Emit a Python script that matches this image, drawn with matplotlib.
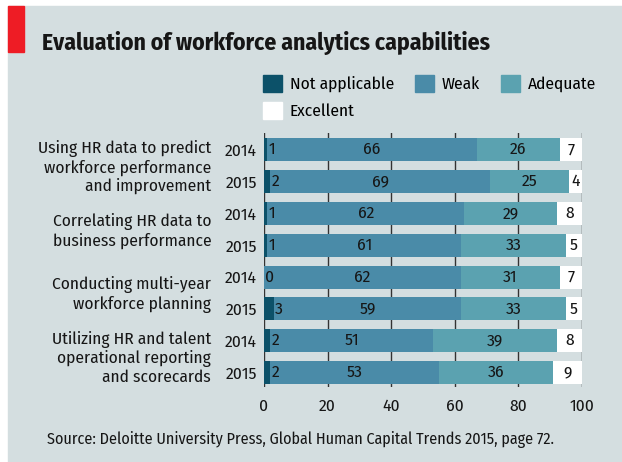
import matplotlib
matplotlib.use("Agg")
import matplotlib.pyplot as plt
from matplotlib.patches import Patch, Rectangle
import numpy as np

categories = ["Using HR data to predict\nworkforce performance\nand improvement",
              "Correlating HR data to\nbusiness performance",
              "Conducting multi-year\nworkforce planning",
              "Utilizing HR and talent\noperational reporting\nand scorecards"]
years = ["2014", "2015"]
not_applicable = [1, 2, 1, 1, 0, 3, 2, 2]
weak = [66, 69, 62, 61, 62, 59, 51, 53]
adequate = [26, 25, 29, 33, 31, 33, 39, 36]
excellent = [7, 4, 8, 5, 7, 5, 8, 9]
legend_labels = ["Not applicable", "Weak", "Adequate", "Excellent"]

c_na = "#0c5169"
c_weak = "#4a8ba8"
c_adeq = "#5ba2b0"
c_exc = "#ffffff"
bg = "#d4dee0"
txt = "#161616"

plt.rcParams['font.family'] = ['Fira Sans Condensed', 'Asap Condensed', 'Liberation Sans', 'DejaVu Sans']

fig = plt.figure(figsize=(6.22, 4.62), dpi=100)
# grey panel and red flag
fig.patches.append(Rectangle((8 / 622, 0), 1, 1 - 6 / 462, transform=fig.transFigure,
                             color=bg, zorder=-10))
fig.patches.append(Rectangle((8 / 622, 1 - 52 / 462), 16 / 622, 46 / 462,
                             transform=fig.transFigure, color="#ee1c25", zorder=-5))
fig.text(42 / 622, 1 - 43 / 462, "Evaluation of workforce analytics capabilities",
         fontsize=17, fontweight="bold", va="center", ha="left", color=txt)

ax = fig.add_axes([264 / 622, 0.1623, (582 - 264) / 622, 0.7121 - 0.1623])
ax.set_facecolor("none")

y = np.arange(len(weak))
na = np.array(not_applicable)
wk = np.array(weak)
ad = np.array(adequate)
ex = np.array(excellent)
h = 0.72
ax.barh(y, na, height=h, color=c_na, zorder=2)
ax.barh(y, wk, left=na, height=h, color=c_weak, zorder=2)
ax.barh(y, ad, left=na + wk, height=h, color=c_adeq, zorder=2)
ax.barh(y, ex, left=na + wk + ad, height=h, color=c_exc, zorder=2)

fs = 12.5
for i in y:
    ax.text(na[i] + 0.4, i, str(na[i]), ha="left", va="center", fontsize=fs, color=txt, zorder=3)
    ax.text(na[i] + wk[i] / 2, i, str(wk[i]), ha="center", va="center", fontsize=fs, color=txt, zorder=3)
    ax.text(na[i] + wk[i] + ad[i] / 2, i, str(ad[i]), ha="center", va="center", fontsize=fs, color=txt, zorder=3)
    ax.text(na[i] + wk[i] + ad[i] + ex[i] / 2, i, str(ex[i]), ha="center", va="center", fontsize=fs, color=txt, zorder=3)

ax.set_xlim(0, 100)
ax.set_ylim(7.45, -0.52)
ax.set_xticks([0, 20, 40, 60, 80, 100])
ax.set_yticks(y)
ax.set_yticklabels(years * 4)
ax.tick_params(axis="both", length=0, labelsize=fs, colors=txt)
ax.tick_params(axis="x", pad=8)
ax.tick_params(axis="y", pad=5)
for s in ax.spines.values():
    s.set_visible(False)
ax.grid(axis="x", color="#333333", linewidth=1.0, zorder=0)
ax.set_axisbelow(True)

for k, label in enumerate(categories):
    ax.text(-16.6, 2 * k + 0.55, label, ha="right", va="center", fontsize=fs,
            linespacing=1.17, color=txt, multialignment="right")

# legend: column-first fill, so order as NA, Excellent | Weak | Adequate
colors = [c_na, c_weak, c_adeq, c_exc]
order = [0, 3, 1, 2]
handles = [Patch(color=colors[j]) for j in order]
labels = [legend_labels[j] for j in order]
fig.legend(handles, labels, ncol=3, loc="upper left", bbox_to_anchor=(249 / 622, 1 - 61 / 462),
           frameon=False, fontsize=fs, handlelength=1.1, handleheight=1.1,
           handletextpad=0.45, columnspacing=1.2, labelspacing=0.55, borderpad=0.3)

fig.text(47 / 622, 1 - 440 / 462,
         "Source: Deloitte University Press, Global Human Capital Trends 2015, page 72.",
         fontsize=11.6, va="center", ha="left", color=txt)

fig.savefig("out.png", dpi=100)
